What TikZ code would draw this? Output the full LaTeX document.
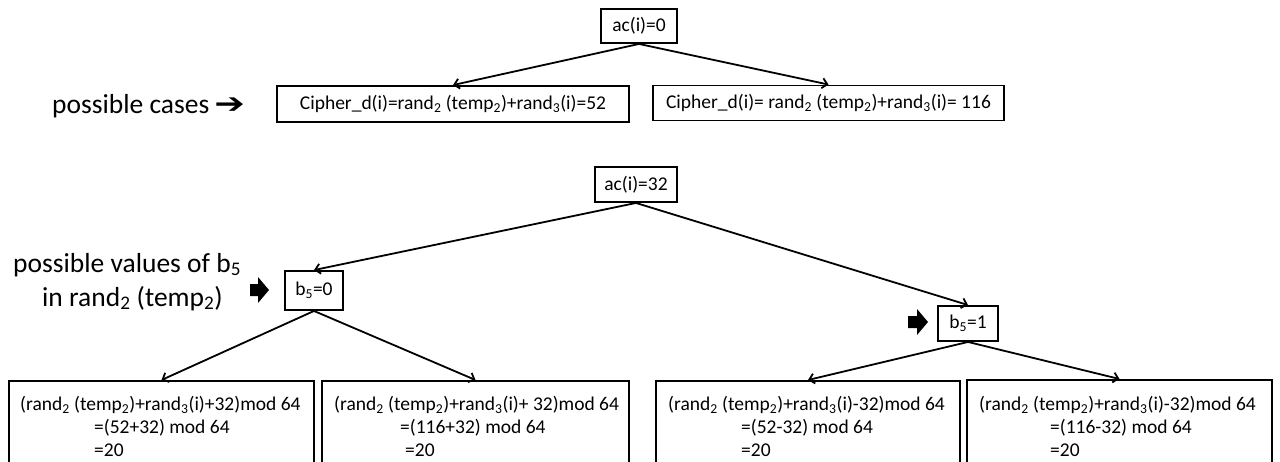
\documentclass[tikz,border=0pt]{standalone}
\usepackage{fontspec}
\setmainfont{Carlito}
\newfontfamily\dejavu{DejaVu Sans}
\usetikzlibrary{arrows.meta}
\begin{document}
\begin{tikzpicture}[x=1pt,y=-1pt,
  box/.style={draw, line width=1.9pt, inner sep=0pt, font=\fontsize{19.5}{23}\selectfont},
  txt/.style={inner sep=0pt, anchor=base west, font=\fontsize{19.5}{23}\selectfont},
  conn/.style={line width=1.8pt, -{Straight Barb[length=5pt,width=10pt]}},
  lbl/.style={inner sep=0pt, font=\fontsize{27.5}{32}\selectfont},
  blockarrow/.style={fill=black}]
\useasboundingbox (0,0) rectangle (1280,461);
\clip (0,0) rectangle (1280,461);

% top tree
\node[box, minimum width=76pt, minimum height=34pt] (ac0) at (639,26) {ac(i)=0};
\node[box, minimum width=352pt, minimum height=36pt] (c52) at (453,104)
  {Cipher\_d(i)=rand\textsubscript{2} (temp\textsubscript{2})+rand\textsubscript{3}(i)=52};
\node[box, minimum width=351pt, minimum height=35pt] (c116) at (828.5,103)
  {Cipher\_d(i)= rand\textsubscript{2} (temp\textsubscript{2})+rand\textsubscript{3}(i)= 116};
\node[lbl, anchor=base west] (pc) at (52,113) {possible cases\hspace{5pt}{\dejavu\fontsize{27}{30}\selectfont\scalebox{1.35}[1.05]{➔}}};

\draw[conn] (ac0.south) -- (c52.north);
\draw[conn] (ac0.south) -- (c116.north);

% second tree
\node[box, minimum width=82pt, minimum height=35pt] (ac32) at (636,184.5) {ac(i)=32};
\node[box, minimum width=58pt, minimum height=39pt] (b50) at (314,290.5) {b\textsubscript{5}=0};
\node[box, minimum width=60pt, minimum height=35pt] (b51) at (968,323.5) {b\textsubscript{5}=1};

\node[lbl, anchor=base west] (pv1) at (13,272) {possible values of b\textsubscript{5}};
\node[lbl, anchor=base west] (pv2) at (42,306) {in rand\textsubscript{2} (temp\textsubscript{2})};

\fill[blockarrow] (250,284) -- (258,284) -- (258,277) -- (269,290) -- (258,303) -- (258,296) -- (250,296) -- cycle;
\fill[blockarrow] (908,316) -- (917,316) -- (917,309) -- (928,322) -- (917,335) -- (917,328) -- (908,328) -- cycle;

\draw[conn] (ac32.south) -- (b50.north);
\draw[conn] (ac32.south) -- (b51.north);

% bottom boxes
\node[box, minimum width=305pt, minimum height=110pt, anchor=north] (bl1) at (161.5,380) {};
\node[box, minimum width=307pt, minimum height=110pt, anchor=north] (bl2) at (475.5,380) {};
\node[box, minimum width=304pt, minimum height=110pt, anchor=north] (br1) at (808,380) {};
\node[box, minimum width=305pt, minimum height=110pt, anchor=north] (br2) at (1119.5,379) {};

\node[txt] (bl1a) at (20,410) {(rand\textsubscript{2} (temp\textsubscript{2})+rand\textsubscript{3}(i)+32)mod 64};
\node[txt] (bl1b) at (94,433) {=(52+32) mod 64};
\node[txt] (bl1c) at (94,456) {=20};

\node[txt] (bl2a) at (334,410) {(rand\textsubscript{2} (temp\textsubscript{2})+rand\textsubscript{3}(i)+ 32)mod 64};
\node[txt] (bl2b) at (400,433) {=(116+32) mod 64};
\node[txt] (bl2c) at (405,456) {=20};

\node[txt] (br1a) at (668,410) {(rand\textsubscript{2} (temp\textsubscript{2})+rand\textsubscript{3}(i)-32)mod 64};
\node[txt] (br1b) at (741,433) {=(52-32) mod 64};
\node[txt] (br1c) at (741,456) {=20};

\node[txt] (br2a) at (979,410) {(rand\textsubscript{2} (temp\textsubscript{2})+rand\textsubscript{3}(i)-32)mod 64};
\node[txt] (br2b) at (1050,433) {=(116-32) mod 64};
\node[txt] (br2c) at (1050,456) {=20};

\draw[conn] (b50.south) -- (bl1.north);
\draw[conn] (b50.south) -- (bl2.north);
\draw[conn] (b51.south) -- (br1.north);
\draw[conn] (b51.south) -- (br2.north);
\end{tikzpicture}
\end{document}
